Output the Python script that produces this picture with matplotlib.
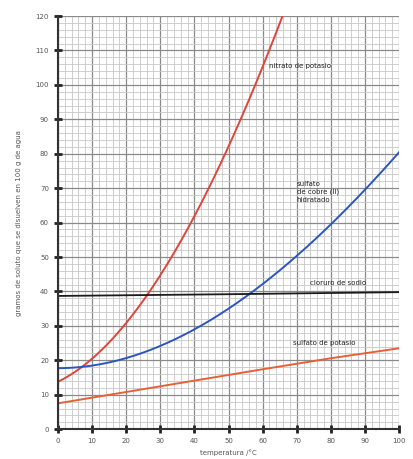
"""Curvas de solubilidad sobre papel milimetrado."""
import numpy as np
import matplotlib
matplotlib.use('Agg')
import matplotlib.pyplot as plt
from matplotlib.ticker import MultipleLocator

# datos
temp_kno3 = [0, 10, 20, 30, 40, 50, 60, 66]
sol_kno3 = [13.5, 21, 31, 44, 62, 82, 106, 120]

temp_cuso4 = [0, 10, 20, 30, 40, 50, 60, 70, 80, 90, 100]
sol_cuso4 = [17.5, 18.5, 21, 24.5, 29, 34.5, 41.5, 50.5, 60, 70, 80]

temp_nacl = [0, 50, 100]
sol_nacl = [38.7, 39.2, 39.8]

temp_k2so4 = [0, 20, 40, 60, 80, 100]
sol_k2so4 = [7.5, 10.8, 14.1, 17.4, 20.6, 23.5]

x_ticks = list(range(0, 101, 10))
y_ticks = list(range(0, 121, 10))

fig = plt.figure(figsize=(4.14, 4.59), dpi=100)
ax = fig.add_axes([0.14, 0.065, 0.824, 0.90])

# papel milimetrado
ax.xaxis.set_minor_locator(MultipleLocator(2))
ax.yaxis.set_minor_locator(MultipleLocator(2))
ax.grid(which='minor', color='#c8c8c8', linewidth=0.6)
ax.grid(which='major', color='#8a8a8a', linewidth=0.9)
ax.set_axisbelow(True)

def curve(x, y):
    xs = np.linspace(min(x), max(x), 200)
    coef = np.polyfit(x, y, 3)
    return xs, np.polyval(coef, xs)

xs, ys = curve(temp_kno3, sol_kno3)
ax.plot(xs, ys, color='#e0443a', lw=1.4)
xs, ys = curve(temp_cuso4, sol_cuso4)
ax.plot(xs, ys, color='#2b55c0', lw=1.4)
ax.plot(temp_nacl, sol_nacl, color='#1a1a1a', lw=1.3)
ax.plot(temp_k2so4, sol_k2so4, color='#e8603a', lw=1.4)

fs = 5
ax.text(62, 105, 'nitrato de potasio', fontsize=fs, color='#222222')
ax.text(70, 66, 'sulfato\nde cobre (II)\nhidratado', fontsize=fs,
        color='#222222', linespacing=1.3)
ax.text(74, 42, 'cloruro de sodio', fontsize=fs, color='#222222')
ax.text(69, 24.5, 'sulfato de potasio', fontsize=fs, color='#222222')

ax.set_xlim(0, 100)
ax.set_ylim(0, 120)
ax.set_xticks(x_ticks)
ax.set_yticks(y_ticks)
ax.tick_params(which='major', direction='inout', length=6, width=2,
               color='#222222', labelsize=5, labelcolor='#555555')
ax.tick_params(which='minor', length=0)

for side in ['top', 'right']:
    ax.spines[side].set_visible(False)
for side in ['left', 'bottom']:
    ax.spines[side].set_linewidth(1.5)
    ax.spines[side].set_color('#333333')

ax.set_xlabel('temperatura /°C', fontsize=5, color='#555555', labelpad=4)
ax.set_ylabel('gramos de soluto que se disuelven en 100 g de agua',
              fontsize=5, color='#555555', labelpad=10)

fig.savefig('out.png', dpi=100)
